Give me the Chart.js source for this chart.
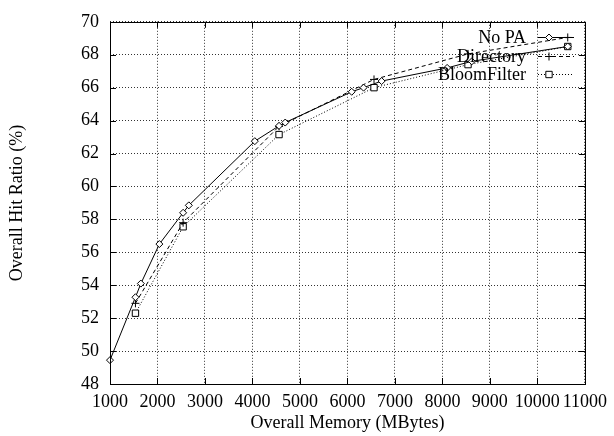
<!DOCTYPE html>
<html>
<head>
<meta charset="utf-8">
<script src="https://cdn.jsdelivr.net/npm/chart.js@4.4.0/dist/chart.umd.min.js"></script>
<style>
  html, body { margin: 0; padding: 0; background: #fff; }
</style>
</head>
<body>
<canvas id="hitChart" width="614" height="436"></canvas>
<script>
// values
const noPaMem  = [1000, 1536, 1650, 2040, 2540, 2660, 4050, 4560, 4690, 6090, 6340, 6720, 8100, 8620, 10640];
const noPaHit  = [49.45, 53.27, 54.1, 56.5, 58.4, 58.85, 62.75, 63.68, 63.88, 65.75, 66.0, 66.4, 67.2, 67.6, 68.5];
const dirMem   = [1536, 2540, 4560, 6560, 8540, 10640];
const dirHit   = [52.9, 57.8, 63.65, 66.5, 68.05, 69.05];
const bloomMem = [1536, 2540, 4560, 6560, 8540, 10640];
const bloomHit = [52.3, 57.55, 63.15, 66.0, 67.4, 68.5];
const xTicks = [1000, 2000, 3000, 4000, 5000, 6000, 7000, 8000, 9000, 10000, 11000];
const yTicks = [48, 50, 52, 54, 56, 58, 60, 62, 64, 66, 68, 70];

const serif = 'Liberation Serif, Times New Roman, serif';
const toPts = (xs, ys) => xs.map((x, i) => ({ x: x, y: ys[i] }));

const series = [
    { label: 'No PA',       data: toPts(noPaMem, noPaHit),   dash: [],     style: 'rectRot', radius: 3.5 },
    { label: 'Directory',   data: toPts(dirMem, dirHit),     dash: [4, 3], style: 'cross',   radius: 4 },
    { label: 'BloomFilter', data: toPts(bloomMem, bloomHit), dash: [1, 2], style: 'rect',    radius: 4.5 }
];

// gnuplot-like frame, inward ticks and key
const framePlugin = {
    id: 'frame',
    afterDatasetsDraw(chart) {
        const { ctx, chartArea: a, scales } = chart;
        ctx.save();
        ctx.strokeStyle = '#000';
        ctx.lineWidth = 1;
        ctx.setLineDash([]);
        ctx.strokeRect(Math.round(a.left) + 0.5, Math.round(a.top) + 0.5,
            Math.round(a.right - a.left), Math.round(a.bottom - a.top));
        ctx.beginPath();
        xTicks.forEach(v => {
            const px = Math.round(scales.x.getPixelForValue(v)) + 0.5;
            ctx.moveTo(px, a.bottom); ctx.lineTo(px, a.bottom - 6);
            ctx.moveTo(px, a.top); ctx.lineTo(px, a.top + 6);
        });
        yTicks.forEach(v => {
            const py = Math.round(scales.y.getPixelForValue(v)) + 0.5;
            ctx.moveTo(a.left, py); ctx.lineTo(a.left + 6, py);
            ctx.moveTo(a.right, py); ctx.lineTo(a.right - 6, py);
        });
        ctx.stroke();

        // key
        ctx.font = '18px ' + serif;
        ctx.textAlign = 'right';
        ctx.textBaseline = 'middle';
        series.forEach((s, i) => {
            const y = Math.round(37 + i * 18.6) + 0.5;
            ctx.fillStyle = '#000';
            ctx.fillText(s.label, 526, y + 0.5);
            ctx.strokeStyle = '#000';
            ctx.lineWidth = 1;
            ctx.setLineDash(s.dash);
            ctx.beginPath();
            ctx.moveTo(538, y);
            ctx.lineTo(574, y);
            ctx.stroke();
            ctx.setLineDash([]);
            ctx.fillStyle = '#fff';
            Chart.helpers.drawPoint(ctx, { pointStyle: s.style, radius: s.radius, rotation: 0, borderWidth: 1 }, 549, y);
        });
        ctx.restore();
    }
};

new Chart(document.getElementById('hitChart'), {
    type: 'scatter',
    data: {
        datasets: series.map(s => ({
            label: s.label,
            data: s.data,
            showLine: true,
            clip: false,
            borderColor: '#000',
            backgroundColor: '#fff',
            borderWidth: 1,
            borderDash: s.dash,
            pointStyle: s.style,
            pointRadius: s.radius,
            pointBorderWidth: 1,
            pointBorderColor: '#000',
            pointBackgroundColor: '#fff',
            tension: 0
        }))
    },
    options: {
        responsive: false,
        animation: false,
        devicePixelRatio: 1,
        layout: { padding: { left: 0, right: 25, top: 12, bottom: 0 } },
        plugins: { legend: { display: false }, tooltip: { enabled: false } },
        scales: {
            x: {
                type: 'linear', min: 1000, max: 11000,
                afterBuildTicks: s => { s.ticks = xTicks.map(v => ({ value: v })); },
                afterFit: s => { s.height = 52; },
                grid: { color: '#333', lineWidth: 1, drawTicks: false },
                border: { display: false, dash: [1, 2] },
                ticks: { autoSkip: false, maxRotation: 0, padding: 7, color: '#000', font: { family: serif, size: 18 }, callback: v => String(v) },
                title: { display: true, text: 'Overall Memory (MBytes)', color: '#000', padding: { top: 0, bottom: 2 }, font: { family: serif, size: 18 } }
            },
            y: {
                type: 'linear', min: 48, max: 70,
                afterBuildTicks: s => { s.ticks = yTicks.map(v => ({ value: v })); },
                afterFit: s => { s.width = 110; },
                grid: { color: '#333', lineWidth: 1, drawTicks: false },
                border: { display: false, dash: [1, 2] },
                ticks: { padding: 11, color: '#000', font: { family: serif, size: 18 }, callback: v => String(v) },
                title: { display: true, text: 'Overall Hit Ratio (%)', color: '#000', padding: { top: 6, bottom: 0 }, font: { family: serif, size: 18 } }
            }
        }
    },
    plugins: [framePlugin]
});
</script>
</body>
</html>
